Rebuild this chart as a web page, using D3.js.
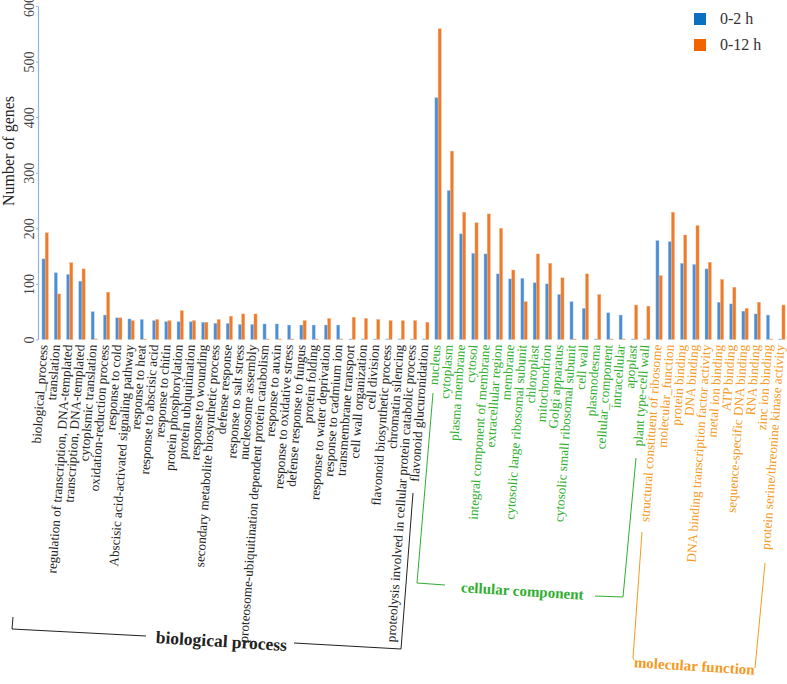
<!DOCTYPE html>
<html>
<head>
<meta charset="utf-8">
<script src="https://cdn.jsdelivr.net/npm/d3@7"></script>
<style>
  html, body { margin: 0; padding: 0; background: #fff; }
  svg { display: block; }
  svg text { font-family: "Liberation Serif", "Times New Roman", serif; }
</style>
</head>
<body>
<svg id="chart" width="787" height="684"></svg>
<script>
const bioCategories = [
  "biological_process", "translation", "regulation of transcription, DNA-templated",
  "transcription, DNA-templated", "cytoplsmic translation", "oxidation-reduction process",
  "response to cold", "Abscisic acid-activated signaling pathway", "response to heat",
  "response to abscisic acid", "response to chitin", "protein phosphorylation",
  "protein ubiquitination", "response to wounding", "secondary metabolite biosynthetic process",
  "defense response", "response to salt stress", "nucleosome assembly",
  "proteosome-ubiquitination dependent protein catabolism", "response to auxin",
  "response to oxidative stress", "defense response to fungus", "protein folding",
  "response to water deprivation", "response to cadmium ion", "transmembrane transport",
  "cell wall organization", "cell division", "flavonoid biosynthetic process",
  "chromatin silencing", "proteolysis involved in cellular protein catabolic process",
  "flavonoid glucuronidation"
];
const ccCategories = [
  "nucleus", "cytoplasm", "plasma membrane", "cytosol", "integral component of membrane",
  "extracellular region", "membrane", "cytosolic large ribosomal subunit", "chloroplast",
  "mitochondrion", "Golgi apparatus", "cytosolic small ribosomal subunit", "cell wall",
  "plasmodesma", "cellular_component", "intracellular", "apoplast", "plant type-cell wall"
];
const mfCategories = [
  "structural constituent of ribosome", "molecular_function", "protein binding", "DNA binding",
  "DNA binding transcription factor activity", "metal ion binding", "ATP binding",
  "sequence-specific DNA binding", "RNA binding", "zinc ion binding",
  "protein serine/threonine kinase activity"
];
const seriesNames = ["0-2 h", "0-12 h"];
const values2h = [
  145, 120, 117, 105, 50, 44, 39, 37, 36, 34, 32, 32, 32, 31, 29, 29, 27, 27, 28, 28, 26, 26, 26, 26, 26, 1, 1, 1, 1, 1, 1, 1,
  435, 268, 190, 155, 154, 118, 109, 110, 102, 100, 81, 68, 56, 1, 48, 44, 1, 1,
  178, 176, 137, 135, 127, 67, 64, 51, 46, 44, 1
];
const values12h = [
  192, 82, 138, 127, 1, 85, 39, 34, 1, 36, 34, 52, 34, 31, 36, 42, 46, 46, 1, 1, 1, 34, 1, 38, 1, 40, 38, 36, 34, 34, 34, 31,
  559, 339, 229, 210, 226, 200, 125, 68, 154, 137, 111, 1, 118, 81, 1, 1, 62, 60,
  115, 229, 188, 205, 139, 108, 94, 56, 67, 1, 62
];
const yTicks = [0, 100, 200, 300, 400, 500, 600];
const groupNames = ["biological process", "cellular component", "molecular function"];

const FONT = "Liberation Serif, Times New Roman, serif";
const categories = bioCategories.concat(ccCategories, mfCategories);
const groupOf = c => bioCategories.includes(c) ? 0 : (ccCategories.includes(c) ? 1 : 2);
const labelColors = ["#222222", "#2fae2f", "#f59a1e"];
const barColors = ["#4a8ed6", "#ee7b2c"];
const legendColors = ["#0b6fc2", "#f26400"];

const svg = d3.select("#chart");
const x0 = d3.scaleBand().domain(categories).range([39, 788]).paddingInner(0).paddingOuter(0);
const innerW = 6.6;
const x1 = d3.scaleBand().domain(seriesNames).range([0, innerW]).padding(0.04);
const y = d3.scaleLinear().domain([0, 600]).range([339.5, 6]);

// bars
const data = categories.map((c, i) => ({ c, v: [values2h[i], values12h[i]] }));
svg.append("g").selectAll("g.grp").data(data).join("g")
  .attr("class", "grp")
  .attr("transform", d => `translate(${x0(d.c) + (x0.bandwidth() - innerW) / 2},0)`)
  .selectAll("rect").data(d => d.v.map((v, k) => ({ k, v })))
  .join("rect")
  .attr("x", d => x1(seriesNames[d.k]))
  .attr("width", x1.bandwidth())
  .attr("y", d => y(d.v))
  .attr("height", d => y(0) - y(d.v))
  .attr("fill", d => barColors[d.k])
  .attr("stroke", d => d.k === 0 ? "#a9c9ee" : "#f6b07c")
  .attr("stroke-width", 0.4);

// y axis
const yAxis = d3.axisLeft(y).tickValues(yTicks).tickSize(2).tickSizeOuter(0);
const ya = svg.append("g").attr("transform", "translate(38,0)").call(yAxis)
  .attr("font-family", FONT);
ya.select(".domain").attr("stroke", "#8db6e6").attr("stroke-width", 1.2);
ya.selectAll(".tick line").attr("stroke", "#8db6e6");
ya.selectAll(".tick text")
  .attr("x", null).attr("dy", null)
  .attr("transform", "translate(-4,0) rotate(-90)")
  .attr("text-anchor", "middle")
  .attr("font-size", 14)
  .attr("fill", "#444");

svg.append("text")
  .attr("transform", "translate(14,151) rotate(-90)")
  .attr("text-anchor", "middle")
  .attr("font-family", FONT)
  .attr("font-size", 16)
  .attr("fill", "#222")
  .text("Number of genes");

// category labels (slightly slanted, as in the reference)
svg.append("g").selectAll("text").data(categories).join("text")
  .attr("transform", d => `translate(${x0(d) + x0.bandwidth() / 2 + 2.5},345) rotate(-86)`)
  .attr("text-anchor", "end")
  .attr("font-family", FONT)
  .attr("font-size", 13.2)
  .attr("fill", d => labelColors[groupOf(d)])
  .text(d => d);

// brackets
const line = d3.line();
const bk = svg.append("g").attr("fill", "none").attr("stroke-width", 1);
bk.append("path").attr("stroke", "#222")
  .attr("d", line([[13, 617], [12, 629], [146, 636]]));
bk.append("path").attr("stroke", "#222")
  .attr("d", line([[294, 643], [401, 649], [413, 493]]));
bk.append("path").attr("stroke", labelColors[1])
  .attr("d", line([[433, 393], [417, 583], [445, 585]]));
bk.append("path").attr("stroke", labelColors[1])
  .attr("d", line([[595, 596], [623, 597], [636, 458]]));
bk.append("path").attr("stroke", labelColors[2])
  .attr("d", line([[642, 532], [633, 658], [634, 660]]));
bk.append("path").attr("stroke", labelColors[2])
  .attr("d", line([[755, 668], [765, 563]]));

const groupLabelPos = [[221, 647, 17.5], [522, 596, 15], [694, 671, 15]];
svg.append("g").selectAll("text").data(groupNames).join("text")
  .attr("transform", (d, i) => `translate(${groupLabelPos[i][0]},${groupLabelPos[i][1]}) rotate(3.5)`)
  .attr("text-anchor", "middle")
  .attr("font-family", FONT)
  .attr("font-weight", "bold")
  .attr("font-size", (d, i) => groupLabelPos[i][2])
  .attr("fill", (d, i) => labelColors[i])
  .text(d => d);

// legend
const lg = svg.append("g").attr("transform", "translate(694,13)");
seriesNames.forEach((s, i) => {
  lg.append("rect").attr("x", 0).attr("y", i * 26).attr("width", 12).attr("height", 12)
    .attr("fill", legendColors[i]);
  lg.append("text").attr("x", 26).attr("y", i * 26 + 11)
    .attr("font-family", FONT)
    .attr("font-size", 16).attr("fill", "#333").text(s);
});
</script>
</body>
</html>
